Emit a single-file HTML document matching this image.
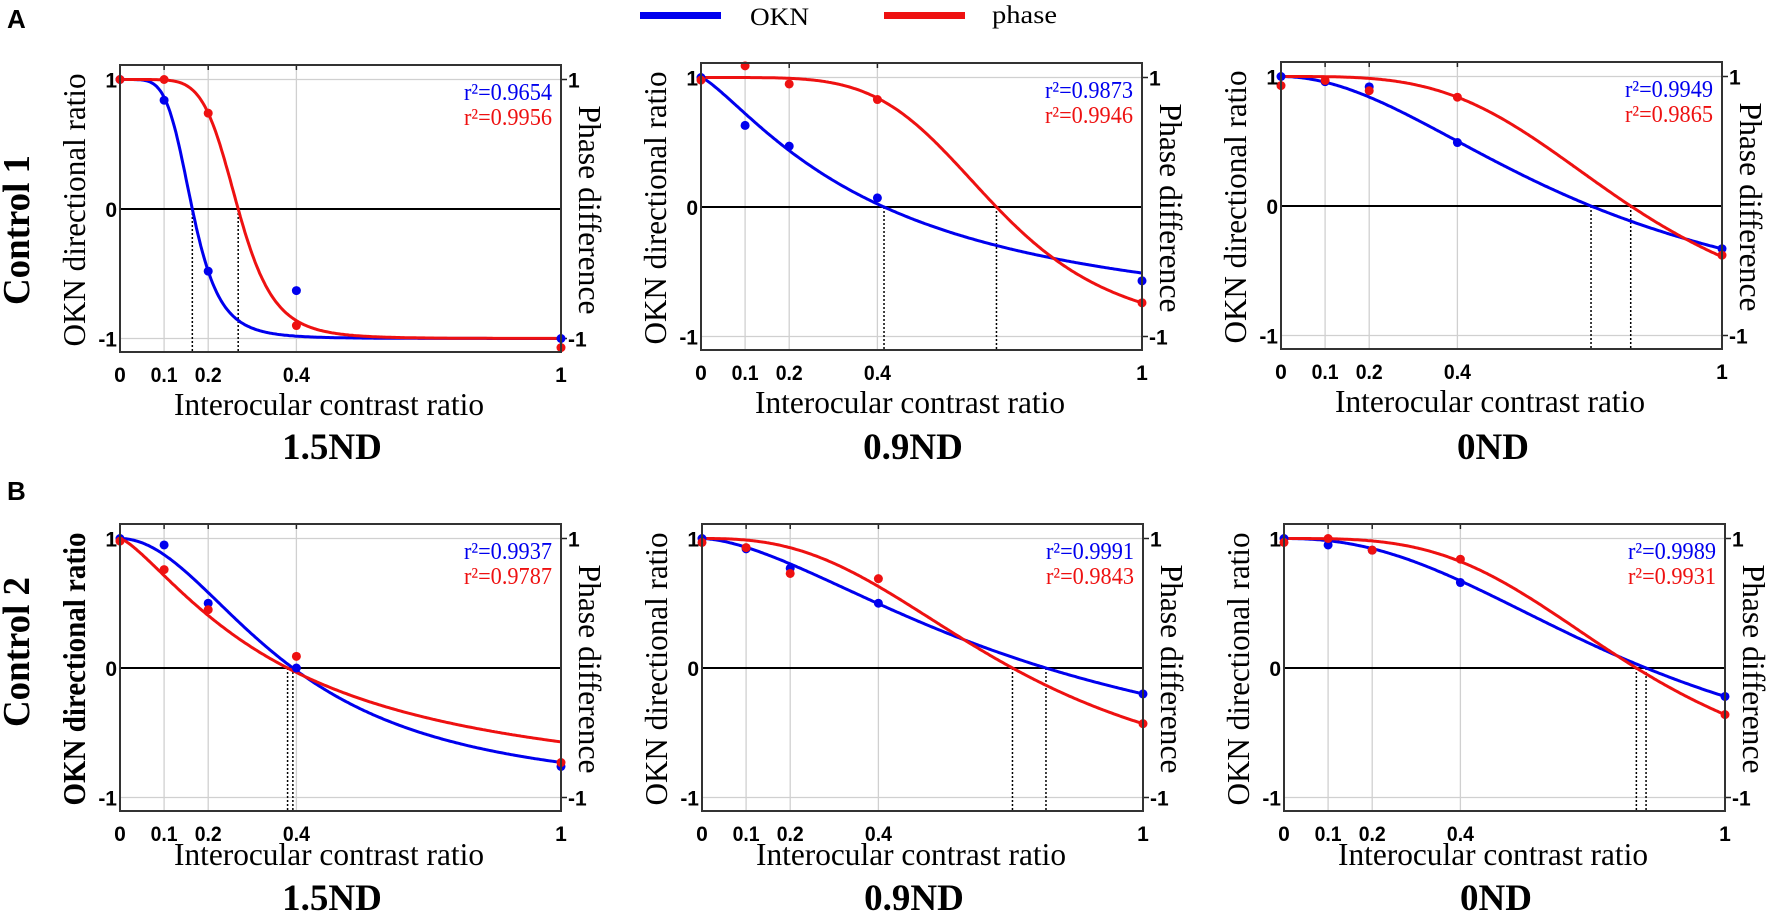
<!DOCTYPE html>
<html><head><meta charset="utf-8">
<style>
html,body{margin:0;padding:0;background:#fff;}
svg{display:block;}
.tk{font-family:"Liberation Sans",sans-serif;font-weight:bold;font-size:21px;}
.sr{font-family:"Liberation Serif",serif;}
</style></head>
<body>
<svg id="s" width="1772" height="915" xmlns="http://www.w3.org/2000/svg"></svg>
<script>
var W=441,H=287,U=129.5;
var panels=[
 {L:120,T:65,row:0,title:"1.5ND",r:["r²=0.9654","r²=0.9956"],
  b:[0.164,5.27],rd:[0.268,6.5],
  bp:[[0,1],[0.1,0.84],[0.2,-0.48],[0.4,-0.63],[1,-1]],
  rp:[[0,1],[0.1,1],[0.2,0.74],[0.4,-0.9],[1,-1.07]]},
 {L:701,T:63,row:0,title:"0.9ND",r:["r²=0.9873","r²=0.9946"],
  b:[0.415,1.28],rd:[0.67,4.75],
  bp:[[0,1],[0.1,0.63],[0.2,0.47],[0.4,0.07],[1,-0.57]],
  rp:[[0,0.98],[0.1,1.09],[0.2,0.95],[0.4,0.83],[1,-0.74]]},
 {L:1281,T:62,row:0,title:"0ND",r:["r²=0.9949","r²=0.9865"],
  b:[0.703,1.95],rd:[0.793,3.57],
  bp:[[0,1],[0.1,0.96],[0.2,0.92],[0.4,0.49],[1,-0.33]],
  rp:[[0,0.93],[0.1,0.97],[0.2,0.89],[0.4,0.84],[1,-0.38]]},
 {L:120,T:524,row:1,bold:true,title:"1.5ND",r:["r²=0.9937","r²=0.9787"],
  b:[0.392,1.98],rd:[0.38,1.34],
  bp:[[0,1],[0.1,0.95],[0.2,0.5],[0.4,0],[1,-0.76]],
  rp:[[0,0.98],[0.1,0.76],[0.2,0.45],[0.4,0.09],[1,-0.73]]},
 {L:702,T:524,row:1,title:"0.9ND",r:["r²=0.9991","r²=0.9843"],
  b:[0.78,1.63],rd:[0.704,2.62],
  bp:[[0,1],[0.1,0.92],[0.2,0.77],[0.4,0.5],[1,-0.2]],
  rp:[[0,0.97],[0.1,0.93],[0.2,0.73],[0.4,0.69],[1,-0.43]]},
 {L:1284,T:524,row:1,title:"0ND",r:["r²=0.9989","r²=0.9931"],
  b:[0.821,2.27],rd:[0.799,3.36],
  bp:[[0,1],[0.1,0.95],[0.2,0.91],[0.4,0.66],[1,-0.22]],
  rp:[[0,0.97],[0.1,1.0],[0.2,0.91],[0.4,0.84],[1,-0.36]]}
];
var o='';
function f(x,c,n){var r=Math.pow(x/c,n);return (1-r)/(1+r);}
panels.forEach(function(p){
 var L=p.L,T=p.T,Y1=T+14.5,Y0=Y1+U;
 function X(x){return L+x*W;} function Y(y){return Y0-y*U;}
 [0.1,0.2,0.4].forEach(function(t){o+='<line x1="'+X(t)+'" y1="'+T+'" x2="'+X(t)+'" y2="'+(T+H)+'" stroke="#d0d0d0" stroke-width="1.3"/>';
  o+='<line x1="'+X(t)+'" y1="'+T+'" x2="'+X(t)+'" y2="'+(T+5)+'" stroke="#222" stroke-width="1.5"/>';});
 [1,-1].forEach(function(t){o+='<line x1="'+L+'" y1="'+Y(t)+'" x2="'+(L+W)+'" y2="'+Y(t)+'" stroke="#d0d0d0" stroke-width="1.3"/>';
  o+='<line x1="'+(L+W)+'" y1="'+Y(t)+'" x2="'+(L+W+6)+'" y2="'+Y(t)+'" stroke="#222" stroke-width="1.5"/>';});
 o+='<line x1="'+L+'" y1="'+Y0+'" x2="'+(L+W)+'" y2="'+Y0+'" stroke="#000" stroke-width="2"/>';
 [p.b[0],p.rd[0]].forEach(function(c){o+='<line x1="'+X(c)+'" y1="'+Y0+'" x2="'+X(c)+'" y2="'+(T+H)+'" stroke="#000" stroke-width="1.5" stroke-dasharray="2,2"/>';});
 [[p.b,'#0000ee'],[p.rd,'#ee1111']].forEach(function(q){
  var d='';for(var i=0;i<=300;i++){var x=i/300;d+=(i?'L':'M')+X(x).toFixed(1)+','+Y(f(x,q[0][0],q[0][1])).toFixed(1);}
  o+='<path d="'+d+'" fill="none" stroke="'+q[1]+'" stroke-width="3"/>';});
 p.bp.forEach(function(a){o+='<circle cx="'+X(a[0])+'" cy="'+Y(a[1])+'" r="4.5" fill="#0000ee"/>';});
 p.rp.forEach(function(a){o+='<circle cx="'+X(a[0])+'" cy="'+Y(a[1])+'" r="4.5" fill="#ee1111"/>';});
 o+='<rect x="'+L+'" y="'+T+'" width="'+W+'" height="'+H+'" fill="none" stroke="#333" stroke-width="2"/>';
 [[1,'1'],[0,'0'],[-1,'-1']].forEach(function(t){o+='<text class="tk" x="'+(L-3)+'" y="'+(Y(t[0])+8)+'" text-anchor="end">'+t[1]+'</text>';});
 [[1,'1'],[-1,'-1']].forEach(function(t){o+='<text class="tk" x="'+(L+W+7)+'" y="'+(Y(t[0])+8)+'">'+t[1]+'</text>';});
 [[0,'0'],[0.1,'0.1'],[0.2,'0.2'],[0.4,'0.4'],[1,'1']].forEach(function(t){
  var tl=t[1].length>1?' textLength="27" lengthAdjust="spacingAndGlyphs"':'';
  o+='<text class="tk" x="'+X(t[0])+'" y="'+(T+H+30)+'" text-anchor="middle"'+tl+'>'+t[1]+'</text>';});
 var xl=p.row?T+331:T+340;
 o+='<text class="sr" x="'+(L+209)+'" y="'+(xl+10)+'" font-size="32" text-anchor="middle" textLength="310" lengthAdjust="spacingAndGlyphs">Interocular contrast ratio</text>';
 var ty=p.row?898:447;
 o+='<text class="sr" x="'+(L+212)+'" y="'+(ty+12)+'" font-size="37" font-weight="bold" text-anchor="middle">'+p.title+'</text>';
 o+='<text class="sr" x="'+(L+432)+'" y="'+(T+35)+'" font-size="24" fill="#0000ee" text-anchor="end" textLength="88" lengthAdjust="spacingAndGlyphs">'+p.r[0]+'</text>';
 o+='<text class="sr" x="'+(L+432)+'" y="'+(T+60)+'" font-size="24" fill="#ee1111" text-anchor="end" textLength="88" lengthAdjust="spacingAndGlyphs">'+p.r[1]+'</text>';
 var cy=T+145;
 o+='<text class="sr" transform="translate('+(L-35)+','+cy+') rotate(-90)" font-size="32" text-anchor="middle" textLength="273" lengthAdjust="spacingAndGlyphs"'+(p.bold?' font-weight="bold"':'')+'>OKN directional ratio</text>';
 o+='<text class="sr" transform="translate('+(L+W+18)+','+cy+') rotate(90)" font-size="32" text-anchor="middle" textLength="209" lengthAdjust="spacingAndGlyphs">Phase difference</text>';
});
o+='<text class="sr" transform="translate(29,230) rotate(-90)" font-size="38" font-weight="bold" text-anchor="middle" textLength="150" lengthAdjust="spacingAndGlyphs">Control 1</text>';
o+='<text class="sr" transform="translate(29,652) rotate(-90)" font-size="38" font-weight="bold" text-anchor="middle" textLength="150" lengthAdjust="spacingAndGlyphs">Control 2</text>';
o+='<text x="7" y="28" font-family="Liberation Sans,sans-serif" font-weight="bold" font-size="26">A</text>';
o+='<text x="7" y="500" font-family="Liberation Sans,sans-serif" font-weight="bold" font-size="26">B</text>';
o+='<rect x="640" y="12" width="81" height="7" fill="#0000ee"/>';
o+='<text class="sr" x="750" y="25" font-size="25" textLength="59" lengthAdjust="spacingAndGlyphs">OKN</text>';
o+='<rect x="884" y="12" width="81" height="7" fill="#ee1111"/>';
o+='<text class="sr" x="992" y="23" font-size="25" textLength="65" lengthAdjust="spacingAndGlyphs">phase</text>';
document.getElementById('s').innerHTML=o;
</script>
</body></html>
